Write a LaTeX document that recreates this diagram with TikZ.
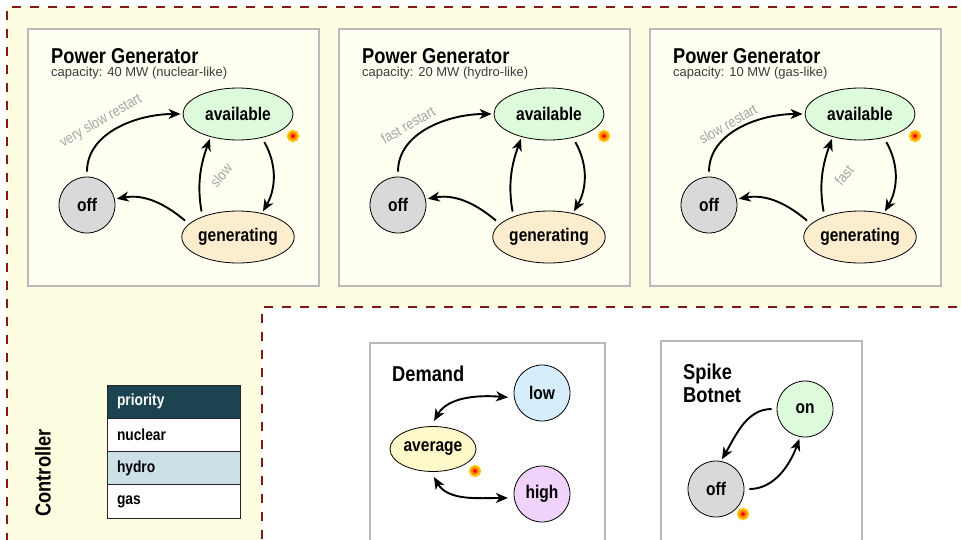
\documentclass[tikz,border=0pt]{standalone}
\usepackage{fontspec}
\setmainfont{Liberation Sans}[FakeStretch=0.85]
\newfontfamily\plainfont{Liberation Sans}
\usetikzlibrary{positioning,arrows.meta,shapes.geometric}
\definecolor{ctlYellow}{RGB}{255,253,225}
\definecolor{ctlDash}{RGB}{130,25,25}
\definecolor{pnlFill}{RGB}{255,255,242}
\definecolor{pnlGray}{RGB}{185,185,185}
\definecolor{stAvail}{RGB}{221,250,218}
\definecolor{stGen}{RGB}{252,237,206}
\definecolor{stOff}{RGB}{217,217,217}
\definecolor{stLow}{RGB}{214,238,252}
\definecolor{stHigh}{RGB}{240,210,250}
\definecolor{stAvg}{RGB}{255,248,200}
\definecolor{tabHead}{RGB}{27,67,80}
\definecolor{tabHydro}{RGB}{204,224,232}
\definecolor{lblGray}{RGB}{165,165,165}
\definecolor{subGray}{RGB}{60,60,60}

\begin{document}
\begin{tikzpicture}[x=1pt, y=1pt,
  panel/.style={draw=pnlGray, line width=2.5pt},
  stbase/.style={draw=black, line width=0.8pt, inner sep=0pt, font=\bfseries\fontsize{18.3}{21}\selectfont},
  oval/.style={stbase, ellipse, minimum width=110pt, minimum height=52pt},
  disc/.style={stbase, circle, minimum size=56pt},
  title/.style={inner sep=0pt, font=\bfseries\fontsize{21.5}{23}\selectfont},
  sub/.style={inner sep=0pt, text=subGray, font=\plainfont\fontsize{13}{14}\selectfont},
  lbl/.style={inner sep=0pt, text=lblGray, font=\fontsize{14.8}{16}\selectfont},
  trans/.style={-{Stealth[length=12pt,width=10pt,inset=3.5pt]}, line width=1.9pt, shorten <=5pt, shorten >=2pt},
  both/.style={{Stealth[length=12pt,width=10pt,inset=3.5pt]}-{Stealth[length=12pt,width=10pt,inset=3.5pt]}, line width=1.9pt, shorten <=6pt, shorten >=6pt},
  dot/.style={circle, inner sep=0pt, minimum size=6pt, fill=red, draw=orange, line width=2pt,
    preaction={draw=yellow!60!orange, line width=6pt}},
  row/.style={draw=black!85, line width=1pt, outer sep=0pt, inner xsep=10pt, text width=113pt,
    minimum height=33.3pt, align=left, font=\bfseries\fontsize{16.2}{18}\selectfont}
]
  \clip (0,0) rectangle (961,-539);

  % Controller region
  \fill[ctlYellow] (7,-7) -- (975,-7) -- (975,-307) -- (262,-307) -- (262,-550) -- (7,-550) -- cycle;
  \draw[ctlDash, line width=1.3pt, dash pattern=on 9pt off 9pt]
    (975,-7) -- (7,-7) -- (7,-550) (975,-307) -- (262,-307) -- (262,-550);

  % Power generators
  \foreach \g/\dx/\cap/\restart/\lx/\ly in {
      1/0/{40 MW (nuclear-like)}/{very slow restart}/101/121,
      2/311/{20 MW (hydro-like)}/{fast restart}/97/125,
      3/622/{10 MW (gas-like)}/{slow restart}/106/124} {
    \begin{scope}[xshift=\dx pt]
      \draw[panel, fill=pnlFill] (28,-29) rectangle (319,-286);
      \node[title, anchor=base west] (pg\g) at (51,-63) {Power Generator};
      \node[sub, anchor=base west] (cap\g) at (51,-76) {capacity: \cap};

      \node[oval, fill=stAvail] (av\g) at (238,-114) {available};
      \node[oval, fill=stGen] (gen\g) at (238,-237) {generating};
      \node[disc, fill=stOff] (off\g) at (87,-205) {off};
      \node[dot] (hot\g) at (293,-136) {};

      \draw[trans] (off\g.north) to[out=90,in=180] (av\g.west);
      \draw[trans] (av\g.-45) to[out=-60,in=60] (gen\g.45);
      \draw[trans] (gen\g.150) to[out=100,in=-110] (av\g.220);
      \draw[trans] (gen\g.165) to[out=140,in=10] (off\g.12);
      \node[lbl, rotate=30] (rs\g) at (\lx,-\ly) {\restart};
    \end{scope}
  }
  \node[lbl, rotate=50] (slow) at (221,-175) {slow};
  \node[lbl, rotate=50] (fast) at (844,-175) {fast};

  % Controller priority table
  \node[title, rotate=90] (ctl) at (43,-473) {Controller};
  \node[row, fill=tabHead, text=white, anchor=north west] (prio) at (107,-385) {priority};
  \node[row, fill=white, below=0pt of prio] (nuc) {nuclear};
  \node[row, fill=tabHydro, below=0pt of nuc] (hyd) {hydro};
  \node[row, fill=white, below=0pt of hyd] (gas) {gas};

  % Demand
  \draw[panel, fill=white] (370,-343) rectangle (605,-570);
  \node[title, anchor=base west] (dem) at (392,-381) {Demand};
  \node[disc, fill=stLow] (low) at (542,-393) {low};
  \node[disc, fill=stHigh] (high) at (542,-494) {high};
  \node[stbase, ellipse, fill=stAvg, minimum width=86pt, minimum height=45pt] (avg) at (433,-449) {average};
  \node[dot] (hotd) at (475,-471) {};
  \draw[both] (avg.95) to[out=60,in=175] (low.190);
  \draw[both] (avg.-95) to[out=-60,in=180] (high.188);

  % Spike botnet
  \draw[panel, fill=white] (661,-341) rectangle (862,-570);
  \node[title, anchor=base west, align=left] (spk) at (683,-402) {Spike\\Botnet};
  \node[disc, fill=stAvail] (on) at (805,-409) {on};
  \node[disc, fill=stOff] (soff) at (716,-489) {off};
  \node[dot] (hots) at (743,-514) {};
  \draw[trans] (on.west) to[out=180,in=60] (soff.80);
  \draw[trans] (soff.east) to[out=0,in=-110] (on.260);
\end{tikzpicture}
\end{document}
